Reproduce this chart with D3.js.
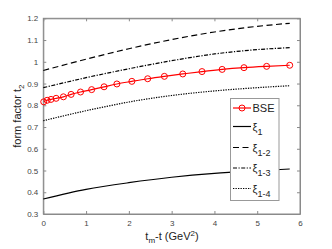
<!DOCTYPE html>
<html>
<head>
<meta charset="utf-8">
<script src="https://cdn.jsdelivr.net/npm/d3@7"></script>
<style>
  body { margin: 0; background: #fff; }
  text { font-family: "Liberation Sans", Arial, sans-serif; }
</style>
</head>
<body>
<svg width="332" height="249"></svg>
<script>
// data
const bseX = [0.01, 0.09, 0.18, 0.30, 0.47, 0.65, 0.87, 1.13, 1.42, 1.72, 2.07, 2.44, 2.83, 3.26, 3.71, 4.18, 4.69, 5.22, 5.76];
const bseY = [0.816, 0.823, 0.827, 0.832, 0.839, 0.850, 0.861, 0.872, 0.885, 0.898, 0.910, 0.922, 0.933, 0.944, 0.955, 0.965, 0.973, 0.979, 0.984];
const xiX = [0, 1, 2, 3, 4, 5, 5.76];
const xi1 = [0.369, 0.413, 0.444, 0.469, 0.487, 0.499, 0.507];
const xi12 = [0.960, 1.012, 1.060, 1.102, 1.137, 1.163, 1.177];
const xi13 = [0.881, 0.927, 0.968, 1.005, 1.036, 1.056, 1.065];
const xi14 = [0.729, 0.775, 0.815, 0.845, 0.866, 0.881, 0.890];
const xTicks = [0, 1, 2, 3, 4, 5, 6];
const yTicks = [0.3, 0.4, 0.5, 0.6, 0.7, 0.8, 0.9, 1, 1.1, 1.2];

const svg = d3.select('svg');
const x = d3.scaleLinear().domain([0, 6]).range([43.3, 300]);
const y = d3.scaleLinear().domain([0.3, 1.2]).range([214, 18.3]);
const axisCol = '#8a8a8a';

// frame + ticks (MATLAB style, inward on all sides)
const plot = svg.append('g');
plot.append('rect')
    .attr('x', x(0)).attr('y', y(1.2))
    .attr('width', x(6) - x(0)).attr('height', y(0.3) - y(1.2))
    .attr('fill', 'none').attr('stroke', axisCol).attr('stroke-width', 1);

const xAxis = d3.axisBottom(x).tickValues(xTicks).tickSizeInner(-3).tickSizeOuter(0).tickPadding(6).tickFormat(d3.format('d'));
const yAxis = d3.axisLeft(y).tickValues(yTicks).tickSizeInner(-3).tickSizeOuter(0).tickPadding(5).tickFormat(d => d3.format('')(+d.toFixed(1)));
plot.append('g').attr('transform', `translate(0,${y(0.3)})`).call(xAxis);
plot.append('g').attr('transform', `translate(${x(0)},0)`).call(yAxis);
plot.append('g').attr('transform', `translate(0,${y(1.2)})`)
    .call(d3.axisTop(x).tickValues(xTicks).tickSizeInner(-3).tickSizeOuter(0).tickFormat(''));
plot.append('g').attr('transform', `translate(${x(6)},0)`)
    .call(d3.axisRight(y).tickValues(yTicks).tickSizeInner(-3).tickSizeOuter(0).tickFormat(''));
plot.selectAll('.domain').attr('stroke', axisCol);
plot.selectAll('.tick line').attr('stroke', axisCol);
plot.selectAll('.tick text').attr('fill', '#444').style('font-size', '8px').style('font-family', '"Liberation Sans", Arial, sans-serif');

// lines
const line = d3.line().x(d => x(d[0])).y(d => y(d[1])).curve(d3.curveMonotoneX);
const dashes = {solid: null, dashed: '6,3.5', dashdot: '4,1.5,1.2,1.5', dotted: '1.3,1.2'};
const series = [
    {vals: xi1, dash: dashes.solid},
    {vals: xi12, dash: dashes.dashed},
    {vals: xi13, dash: dashes.dashdot},
    {vals: xi14, dash: dashes.dotted}
];
series.forEach(s => {
    svg.append('path')
        .datum(xiX.map((d, i) => [d, s.vals[i]]))
        .attr('d', line)
        .attr('fill', 'none').attr('stroke', '#000').attr('stroke-width', 1.2)
        .attr('stroke-dasharray', s.dash);
});

const bse = bseX.map((d, i) => [d, bseY[i]]);
svg.append('path').datum(bse).attr('d', line)
    .attr('fill', 'none').attr('stroke', '#f00').attr('stroke-width', 1.2);
svg.selectAll('circle.bse').data(bse).enter().append('circle')
    .attr('class', 'bse')
    .attr('cx', d => x(d[0])).attr('cy', d => y(d[1])).attr('r', 3)
    .attr('fill', 'none').attr('stroke', '#f00').attr('stroke-width', 1);

// legend
const lg = svg.append('g');
lg.append('rect').attr('x', 230.5).attr('y', 98.5).attr('width', 48.5).attr('height', 102)
    .attr('fill', '#fff').attr('stroke', '#999').attr('stroke-width', 1);
const items = [
    {dash: null, color: '#f00', label: 'BSE', sub: null, yy: 108, marker: true},
    {dash: dashes.solid, color: '#000', label: 'ξ', sub: '1', yy: 126.5},
    {dash: dashes.dashed, color: '#000', label: 'ξ', sub: '1-2', yy: 147.5},
    {dash: dashes.dashdot, color: '#000', label: 'ξ', sub: '1-3', yy: 168},
    {dash: dashes.dotted, color: '#000', label: 'ξ', sub: '1-4', yy: 188.5}
];
items.forEach(it => {
    lg.append('line').attr('x1', 233).attr('x2', 251).attr('y1', it.yy).attr('y2', it.yy)
        .attr('stroke', it.color).attr('stroke-width', 1.2).attr('stroke-dasharray', it.dash);
    if (it.marker) {
        lg.append('circle').attr('cx', 242).attr('cy', it.yy).attr('r', 3)
            .attr('fill', 'none').attr('stroke', '#f00');
    }
    const t = lg.append('text').attr('x', 252.5).attr('y', it.yy + 4).style('font-size', '11px').attr('fill', '#222');
    t.append('tspan').text(it.label);
    if (it.sub) t.append('tspan').attr('dy', 4).style('font-size', '9px').text(it.sub);
});

// axis labels
const yl = svg.append('text').attr('transform', `translate(21,${(y(0.3) + y(1.2)) / 2}) rotate(-90)`)
    .attr('text-anchor', 'middle').style('font-size', '11px').attr('fill', '#222');
yl.append('tspan').text('form factor t');
yl.append('tspan').attr('dy', 3).style('font-size', '8px').text('2');

const xl = svg.append('text').attr('x', 172).attr('y', 240)
    .attr('text-anchor', 'middle').style('font-size', '11px').attr('fill', '#222');
xl.append('tspan').text('t');
xl.append('tspan').attr('dy', 3).style('font-size', '8px').text('m');
xl.append('tspan').attr('dy', -3).text('-t (GeV');
xl.append('tspan').attr('dy', -4).style('font-size', '8px').text('2');
xl.append('tspan').attr('dy', 4).text(')');
</script>
</body>
</html>
